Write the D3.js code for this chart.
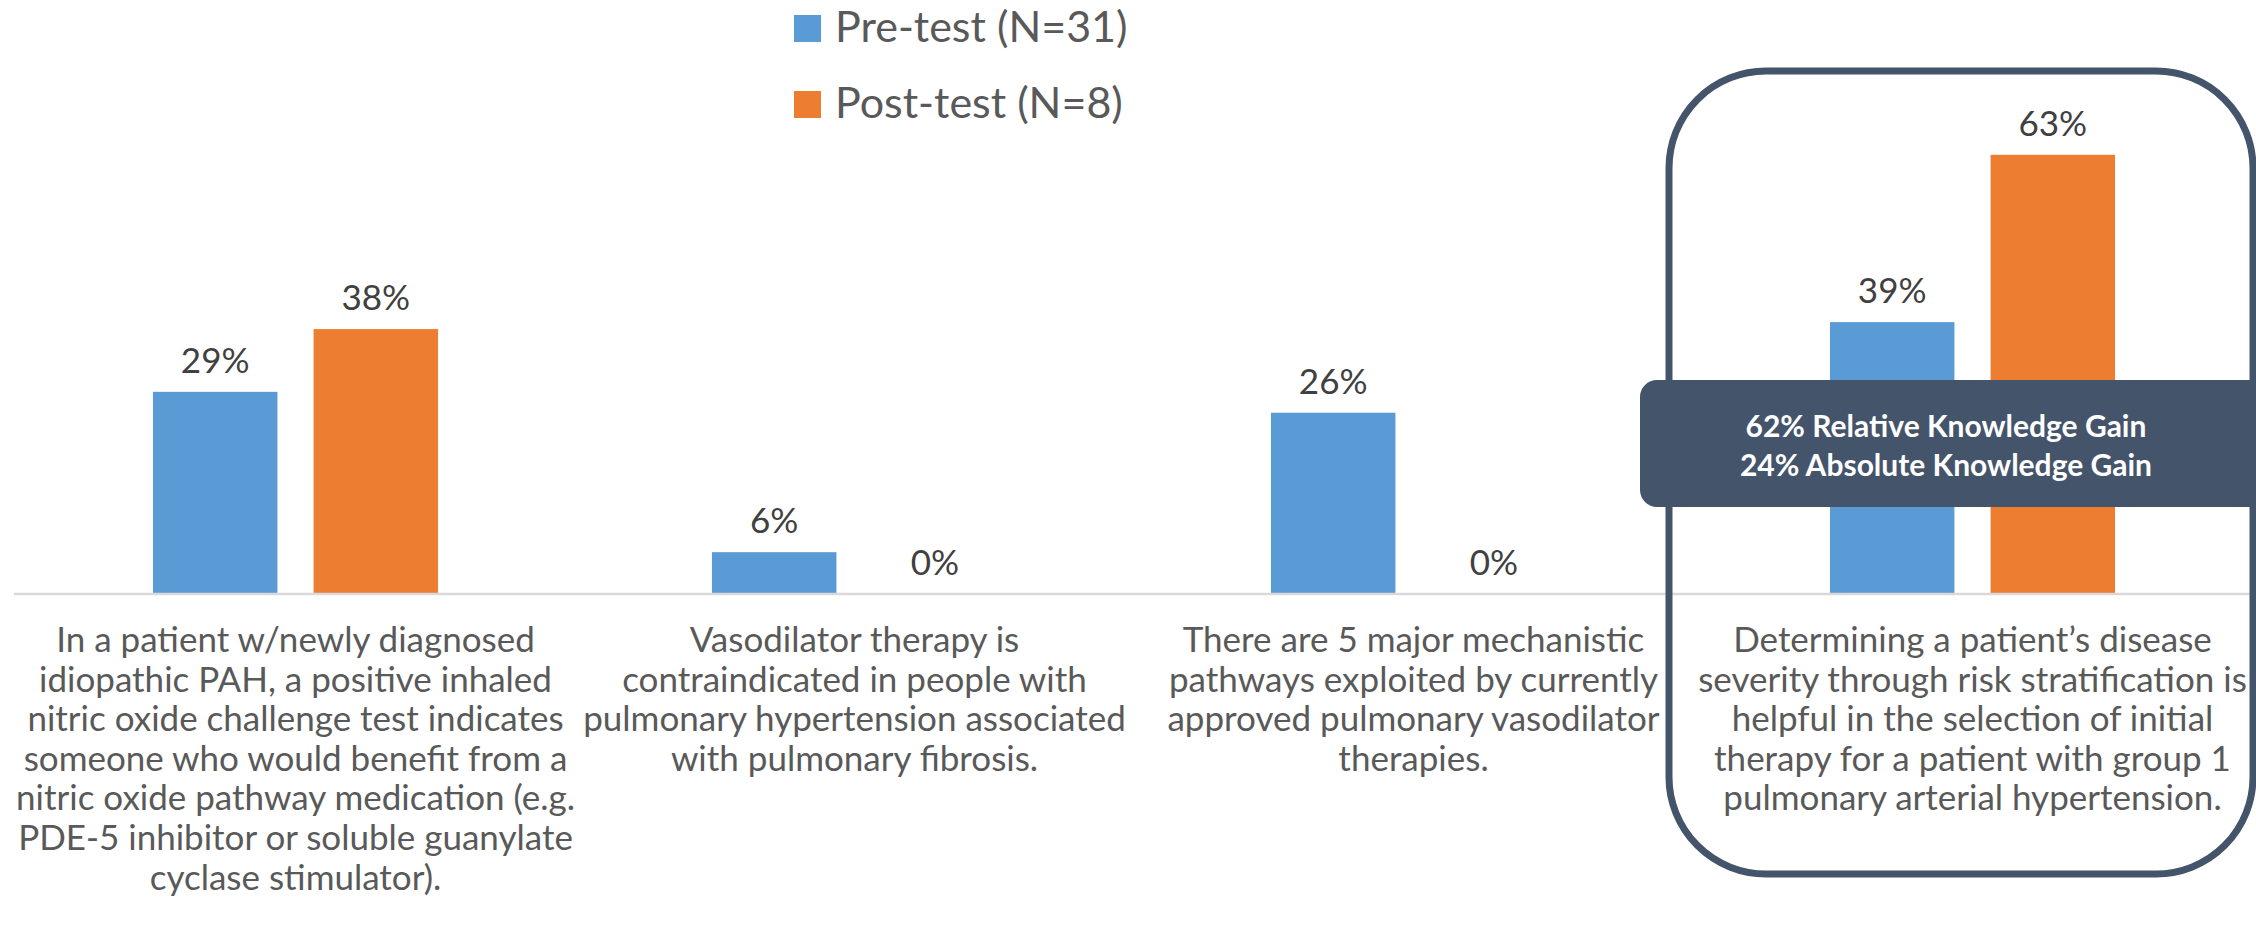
<!DOCTYPE html>
<html>
<head>
<meta charset="utf-8">
<script src="https://cdn.jsdelivr.net/npm/d3@7/dist/d3.min.js"></script>
<style>
  html, body { margin: 0; padding: 0; background: #ffffff; }
  svg { display: block; }
  text { font-family: Lato, "Open Sans", sans-serif; }
</style>
</head>
<body>
<svg id="chart" width="2256" height="933"></svg>
<script>
// Knowledge-check results per question
const categories = [
  ["In a patient w/newly diagnosed", "idiopathic PAH, a positive inhaled", "nitric oxide challenge test indicates", "someone who would benefit from a", "nitric oxide pathway medication (e.g.", "PDE-5 inhibitor or soluble guanylate", "cyclase stimulator)."],
  ["Vasodilator therapy is", "contraindicated in people with", "pulmonary hypertension associated", "with pulmonary fibrosis."],
  ["There are 5 major mechanistic", "pathways exploited by currently", "approved pulmonary vasodilator", "therapies."],
  ["Determining a patient\u2019s disease", "severity through risk stratification is", "helpful in the selection of initial", "therapy for a patient with group 1", "pulmonary arterial hypertension."]
];
const seriesNames = ["Pre-test (N=31)", "Post-test (N=8)"];
const preTest = [29, 6, 26, 39];
const postTest = [38, 0, 0, 63];
const calloutLines = ["62% Relative Knowledge Gain", "24% Absolute Knowledge Gain"];
const highlightIndex = 3;

const colors = ["#5b9bd5", "#ed7d31"];
const svg = d3.select("#chart");

const plot = { left: 16, right: 2252, base: 594, top: 106 };
const groups = d3.range(categories.length);

const x0 = d3.scaleBand()
  .domain(groups)
  .range([plot.left, plot.right])
  .paddingInner(0.49)
  .paddingOuter(0.245);

const x1 = d3.scaleBand()
  .domain([0, 1])
  .range([0, x0.bandwidth()])
  .paddingInner(0.225);

const y = d3.scaleLinear().domain([0, 70]).range([plot.base, plot.top]);

const rows = groups.map(i => [preTest[i], postTest[i]]);

// bars
const g = svg.append("g");
const grp = g.selectAll("g.grp").data(rows).join("g")
  .attr("class", "grp")
  .attr("transform", (d, i) => `translate(${x0(i)},0)`);

grp.selectAll("rect").data(d => d).join("rect")
  .attr("x", (d, j) => x1(j))
  .attr("width", x1.bandwidth())
  .attr("y", d => y(d))
  .attr("height", d => y(0) - y(d))
  .attr("fill", (d, j) => colors[j]);

// value labels
grp.selectAll("text.val").data(d => d).join("text")
  .attr("class", "val")
  .attr("x", (d, j) => x1(j) + x1.bandwidth() / 2)
  .attr("y", d => y(d) - 19)
  .attr("text-anchor", "middle")
  .attr("font-size", 35)
  .attr("fill", "#404040")
  .text(d => d + "%");

// category axis line
const xAxis = d3.axisBottom(x0).tickSize(0).tickFormat("");
const axisG = svg.append("g")
  .attr("transform", `translate(0,${plot.base})`)
  .call(xAxis);
axisG.select(".domain").attr("stroke", "#d9d9d9").attr("stroke-width", 2.5)
  .attr("d", `M${plot.left - 2},0H${plot.right}`);

// category labels
const lineH = 39.6;
const labels = svg.append("g").selectAll("text.cat").data(categories).join("text")
  .attr("class", "cat")
  .attr("text-anchor", "middle")
  .attr("font-size", 35)
  .attr("fill", "#595959")
  .attr("transform", (d, i) => `translate(${x0(i) + x0.bandwidth() / 2},652)`);
labels.selectAll("tspan").data(d => d).join("tspan")
  .attr("x", 0)
  .attr("y", (d, k) => k * lineH)
  .text(d => d);

// highlight frame round the last question
const frame = { x: 1669, y: 71, w: 2253 - 1669, h: 874 - 71 };
svg.append("rect")
  .attr("x", frame.x).attr("y", frame.y)
  .attr("width", frame.w).attr("height", frame.h)
  .attr("rx", 97).attr("ry", 97)
  .attr("fill", "none")
  .attr("stroke", "#44546a")
  .attr("stroke-width", 7);

// knowledge-gain callout
svg.append("rect")
  .attr("x", 1640).attr("y", 380)
  .attr("width", 700).attr("height", 127)
  .attr("rx", 17).attr("ry", 17)
  .attr("fill", "#44546a");
svg.append("g").selectAll("text").data(calloutLines).join("text")
  .attr("x", 1946)
  .attr("y", (d, k) => 437 + k * 39)
  .attr("text-anchor", "middle")
  .attr("font-size", 30)
  .attr("font-weight", "bold")
  .attr("fill", "#ffffff")
  .text(d => d);

// legend
const legend = svg.append("g").selectAll("g").data(seriesNames).join("g")
  .attr("transform", (d, i) => `translate(794,${15 + i * 76})`);
legend.append("rect").attr("width", 27).attr("height", 27).attr("fill", (d, i) => colors[i]);
legend.append("text")
  .attr("x", 41).attr("y", 27)
  .attr("font-size", 43)
  .attr("fill", "#595959")
  .text(d => d);
</script>
</body>
</html>
